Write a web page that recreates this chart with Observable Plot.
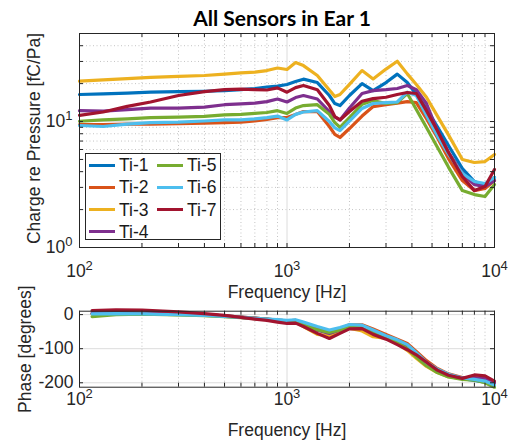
<!DOCTYPE html>
<html>
<head>
<meta charset="utf-8">
<script src="https://cdn.jsdelivr.net/npm/d3@7"></script>
<script src="https://cdn.jsdelivr.net/npm/@observablehq/plot@0.6"></script>
<style>
  body { margin: 0; background: #fff; }
  #wrap { position: relative; width: 510px; height: 441px; overflow: hidden; background: #fff;
          font-family: "Liberation Sans", Arial, Helvetica, sans-serif; color: #262626; }
  #wrap svg { display: block; }
  #legend { position: absolute; left: 85px; top: 153px; width: 136px; height: 87px;
            border: 1px solid #262626; background: #fff; box-sizing: border-box; }
  #legend .sw { position: absolute; height: 3px; width: 26px; }
  #legend .lb { position: absolute; font-size: 17.5px; line-height: 20px; white-space: nowrap; color: #1a1a1a; }
</style>
</head>
<body>
<div id="wrap"></div>
<script>
// ---------------- data ----------------
const title = "All Sensors in Ear 1";
const sensors = ["Ti-1", "Ti-2", "Ti-3", "Ti-4", "Ti-5", "Ti-6", "Ti-7"];
const colors = ["#0072BD", "#D95319", "#EDB120", "#7E2F8E", "#77AC30", "#4DBEEE", "#A2142F"];

// magnitude (fC/Pa) vs frequency (Hz)
const magFreq = [100, 130, 170, 220, 300, 400, 500, 600, 700, 800, 900, 1000, 1100, 1200, 1400, 1600, 1700, 1800, 2000, 2300, 2600, 3000, 3400, 3800, 4200, 4700, 5300, 6000, 7000, 8000, 9000, 10000];
const magTi1 = [16.4, 16.6, 16.8, 17.1, 17.3, 17.4, 17.6, 17.9, 18.3, 18.8, 19.1, 19.7, 20.8, 21.7, 20.4, 16.1, 13.9, 13.4, 16.1, 20.0, 17.6, 20.4, 23.8, 20.4, 16.4, 12.7, 9.13, 6.45, 4.24, 3.34, 3.1, 3.6];
const magTi2 = [9.47, 9.47, 9.55, 9.55, 9.64, 9.73, 9.8, 9.9, 10.1, 10.4, 10.75, 10.75, 11.4, 12.0, 12.0, 9.13, 7.9, 7.47, 8.8, 11.05, 13.15, 13.6, 14.0, 14.4, 14.15, 10.55, 7.47, 5.08, 3.4, 2.83, 2.94, 3.4];
const magTi3 = [20.9, 21.4, 21.9, 22.4, 22.8, 23.2, 23.8, 24.3, 24.7, 25.4, 26.6, 25.9, 29.4, 27.8, 23.2, 17.8, 15.8, 16.4, 19.7, 25.4, 21.8, 26.1, 30.1, 23.9, 19.7, 15.6, 11.1, 7.84, 5.0, 4.73, 4.81, 5.47];
const magTi4 = [12.2, 12.1, 12.45, 12.8, 12.8, 13.0, 13.6, 13.8, 14.0, 14.4, 15.1, 14.3, 15.5, 16.1, 15.1, 12.0, 10.85, 10.3, 12.8, 16.7, 17.6, 17.9, 18.3, 19.3, 17.9, 13.9, 8.48, 5.68, 3.87, 3.16, 3.05, 3.4];
const magTi5 = [10.05, 10.3, 10.5, 10.75, 10.85, 11.0, 11.3, 11.4, 11.6, 11.8, 12.2, 11.6, 12.8, 13.4, 13.6, 11.4, 9.8, 9.0, 10.75, 13.7, 14.7, 13.9, 14.15, 16.7, 12.45, 8.96, 6.27, 4.35, 2.83, 2.63, 2.54, 3.16];
const magTi6 = [9.3, 9.13, 9.55, 9.8, 9.9, 10.1, 10.3, 10.3, 10.5, 10.75, 11.05, 10.3, 11.4, 11.9, 12.2, 10.0, 8.9, 8.48, 10.07, 12.7, 13.9, 14.15, 14.3, 17.1, 16.1, 11.2, 7.74, 5.5, 3.87, 3.34, 3.22, 3.6];
const magTi7 = [11.2, 11.9, 13.2, 14.3, 16.1, 17.3, 17.9, 18.1, 17.9, 17.8, 18.5, 17.1, 18.6, 19.3, 17.9, 13.4, 10.96, 10.3, 12.0, 14.5, 15.2, 15.6, 16.4, 17.0, 16.7, 12.2, 8.48, 5.68, 3.66, 2.83, 3.05, 4.16];

// phase (degrees) vs frequency (Hz)
const phaseFreq = [115, 150, 200, 300, 400, 500, 600, 700, 800, 900, 1000, 1100, 1200, 1400, 1600, 1800, 2000, 2300, 2600, 3000, 3400, 3800, 4200, 4700, 5300, 6000, 7000, 8000, 9000, 10000];
const phaseTi1 = [3, 4, 3, 1, -1, -4, -7, -10, -13, -16, -18, -17, -26, -42, -50, -42, -32, -33, -48, -63, -76, -92, -115, -142, -163, -177, -188, -193, -198, -208];
const phaseTi2 = [3, 4, 3, 1, -1, -4, -7, -10, -13, -16, -18, -17, -25, -40, -50, -42, -30, -30, -42, -58, -72, -85, -108, -135, -158, -174, -185, -188, -193, -205];
const phaseTi3 = [2, 3, 2, 0, -2, -5, -8, -11, -14, -17, -20, -22, -35, -58, -62, -50, -40, -48, -65, -70, -85, -105, -128, -152, -170, -182, -188, -190, -195, -205];
const phaseTi4 = [4, 5, 4, 2, -1, -4, -8, -11, -14, -17, -20, -19, -28, -46, -55, -45, -35, -36, -52, -66, -80, -95, -118, -145, -166, -179, -186, -185, -188, -200];
const phaseTi5 = [-6, 0, 1, -1, -3, -6, -9, -12, -14, -17, -19, -18, -28, -45, -52, -45, -36, -38, -55, -68, -82, -100, -125, -150, -170, -183, -190, -192, -200, -213];
const phaseTi6 = [2, 3, 2, 0, -2, -5, -8, -11, -13, -15, -17, -15, -22, -35, -45, -38, -29, -31, -45, -62, -74, -88, -112, -140, -160, -175, -186, -190, -195, -207];
const phaseTi7 = [12, 14, 13, 8, 3, -2, -8, -13, -17, -22, -26, -25, -35, -55, -70, -55, -42, -41, -58, -72, -88, -103, -118, -140, -163, -178, -187, -177, -180, -195];

// ticks
const xTickValues = [100, 1000, 10000];
const xTickLabels = ["10²", "10³", "10⁴"];
const xMinor = [200, 300, 400, 500, 600, 700, 800, 900, 2000, 3000, 4000, 5000, 6000, 7000, 8000, 9000];
const magTickValues = [1, 10];
const magTickLabels = ["10⁰", "10¹"];
const magMinor = [2, 3, 4, 5, 6, 7, 8, 9, 20, 30, 40, 50];
const phaseTickValues = [-200, -100, 0];
const phaseTickLabels = ["-200", "-100", "0"];

const xLabel = "Frequency [Hz]";
const magLabel = "Charge re Pressure [fC/Pa]";
const phaseLabel = "Phase [degrees]";

// ---------------- build ----------------
const magSeries = [magTi1, magTi2, magTi3, magTi4, magTi5, magTi6, magTi7];
const phaseSeries = [phaseTi1, phaseTi2, phaseTi3, phaseTi4, phaseTi5, phaseTi6, phaseTi7];
const magData = [];
magSeries.forEach((arr, i) => arr.forEach((v, j) => magData.push({sensor: sensors[i], f: magFreq[j], v})));
const phaseData = [];
phaseSeries.forEach((arr, i) => arr.forEach((v, j) => phaseData.push({sensor: sensors[i], f: phaseFreq[j], v})));

const axisColor = "#262626";
const majorGrid = "#dcdcdc";
const minorGrid = "#c4c4c4";
const fontStack = "'Liberation Sans', Arial, Helvetica, sans-serif";
const W = 510;

function frameTicks(xVals, yVals, fw, fh, len) {
  return [
    Plot.tickX(xVals, {x: d => d, insetTop: fh - len, stroke: axisColor}),
    Plot.tickX(xVals, {x: d => d, insetBottom: fh - len, stroke: axisColor}),
    Plot.tickY(yVals, {y: d => d, insetRight: fw - len, stroke: axisColor}),
    Plot.tickY(yVals, {y: d => d, insetLeft: fw - len, stroke: axisColor})
  ];
}

// top panel
const m1 = {top: 33, right: 16, bottom: 53, left: 79};
const h1 = 300;
const fw = W - m1.left - m1.right;
const fh1 = h1 - m1.top - m1.bottom;

const topPlot = Plot.plot({
  width: W, height: h1,
  marginTop: m1.top, marginRight: m1.right, marginBottom: m1.bottom, marginLeft: m1.left,
  style: {fontFamily: fontStack, fontSize: "17.5px", color: axisColor, background: "white", overflow: "visible"},
  x: {type: "log", domain: [100, 10000], ticks: xTickValues, tickFormat: d => xTickLabels[xTickValues.indexOf(d)], tickSize: 0, tickPadding: 17, label: null},
  y: {type: "log", domain: [1, 50], ticks: magTickValues, tickFormat: d => magTickLabels[magTickValues.indexOf(d)], tickSize: 0, tickPadding: 7, label: null},
  color: {domain: sensors, range: colors},
  marks: [
    Plot.ruleX(xMinor, {x: d => d, stroke: minorGrid, strokeDasharray: "1,2.5"}),
    Plot.ruleY(magMinor, {y: d => d, stroke: minorGrid, strokeDasharray: "1,2.5"}),
    Plot.ruleX([1000], {x: d => d, stroke: majorGrid}),
    Plot.ruleY([10], {y: d => d, stroke: majorGrid}),
    Plot.line(magData, {x: "f", y: "v", z: "sensor", stroke: "sensor", strokeWidth: 3.2, strokeLinejoin: "round", strokeLinecap: "round"}),
    Plot.frame({stroke: axisColor}),
    ...frameTicks(xTickValues.concat(xMinor), magTickValues.concat(magMinor), fw, fh1, 4),
    Plot.text([title], {frameAnchor: "top", lineAnchor: "middle", textAnchor: "middle", dy: -14, dx: -5, fontSize: 21, fontWeight: "bold", fontFamily: "Lato, 'Open Sans', sans-serif", fill: "#000"}),
    Plot.text([xLabel], {frameAnchor: "bottom", lineAnchor: "middle", textAnchor: "middle", dy: 44.5, fill: axisColor}),
    Plot.text([magLabel], {frameAnchor: "left", lineAnchor: "middle", textAnchor: "middle", rotate: -90, dx: -45.5, dy: -2, fill: axisColor})
  ]
});

// bottom panel
const m2 = {top: 10.7, right: 16, bottom: 54.3, left: 79};
const h2 = 141;
const fh2 = h2 - m2.top - m2.bottom;

const bottomPlot = Plot.plot({
  width: W, height: h2,
  marginTop: m2.top, marginRight: m2.right, marginBottom: m2.bottom, marginLeft: m2.left,
  style: {fontFamily: fontStack, fontSize: "17.5px", color: axisColor, background: "white", overflow: "visible"},
  x: {type: "log", domain: [100, 10000], ticks: xTickValues, tickFormat: d => xTickLabels[xTickValues.indexOf(d)], tickSize: 0, tickPadding: 5, label: null},
  y: {domain: [-213, 10], ticks: phaseTickValues, tickFormat: d => phaseTickLabels[phaseTickValues.indexOf(d)], tickSize: 0, tickPadding: 6, label: null},
  color: {domain: sensors, range: colors},
  marks: [
    Plot.ruleX(xMinor, {x: d => d, stroke: minorGrid, strokeDasharray: "1,2.5"}),
    Plot.ruleX([1000], {x: d => d, stroke: majorGrid}),
    Plot.ruleY(phaseTickValues, {y: d => d, stroke: majorGrid}),
    Plot.line(phaseData, {x: "f", y: "v", z: "sensor", stroke: "sensor", strokeWidth: 3.2, strokeLinejoin: "round", strokeLinecap: "round"}),
    Plot.frame({stroke: axisColor}),
    ...frameTicks(xTickValues.concat(xMinor), phaseTickValues, fw, fh2, 4),
    Plot.text([xLabel], {frameAnchor: "bottom", lineAnchor: "middle", textAnchor: "middle", dy: 43, fill: axisColor}),
    Plot.text([phaseLabel], {frameAnchor: "left", lineAnchor: "middle", textAnchor: "middle", rotate: -90, dx: -54, fill: axisColor})
  ]
});

// MATLAB-style exponents: "10²" -> "10" + raised smaller digit
const supMap = {"⁰": "0", "¹": "1", "²": "2", "³": "3", "⁴": "4"};
function styleExponents(svg) {
  svg.querySelectorAll("text").forEach(t => {
    const m = /^10([⁰¹²³⁴])$/.exec(t.textContent);
    if (!m) return;
    while (t.firstChild) t.removeChild(t.firstChild);
    t.appendChild(document.createTextNode("10"));
    const ts = document.createElementNS("http://www.w3.org/2000/svg", "tspan");
    ts.setAttribute("dy", "-7");
    ts.setAttribute("font-size", "13px");
    ts.textContent = supMap[m[1]];
    t.appendChild(ts);
  });
}
styleExponents(topPlot);
styleExponents(bottomPlot);

const wrap = document.getElementById("wrap");
wrap.appendChild(topPlot);
wrap.appendChild(bottomPlot);

// legend (two columns, column-major like MATLAB NumColumns = 2)
const legend = document.createElement("div");
legend.id = "legend";
const rows = 4;
sensors.forEach((s, i) => {
  const col = Math.floor(i / rows), row = i % rows;
  const cy = 11 + row * 22.3;
  const lx = col === 0 ? 3 : 71;
  const sw = document.createElement("div");
  sw.className = "sw";
  sw.style.left = lx + "px";
  sw.style.top = (cy - 1.5) + "px";
  sw.style.background = colors[i];
  legend.appendChild(sw);
  const lb = document.createElement("div");
  lb.className = "lb";
  lb.style.left = (lx + 30) + "px";
  lb.style.top = (cy - 10) + "px";
  lb.textContent = s;
  legend.appendChild(lb);
});
wrap.appendChild(legend);
</script>
</body>
</html>
